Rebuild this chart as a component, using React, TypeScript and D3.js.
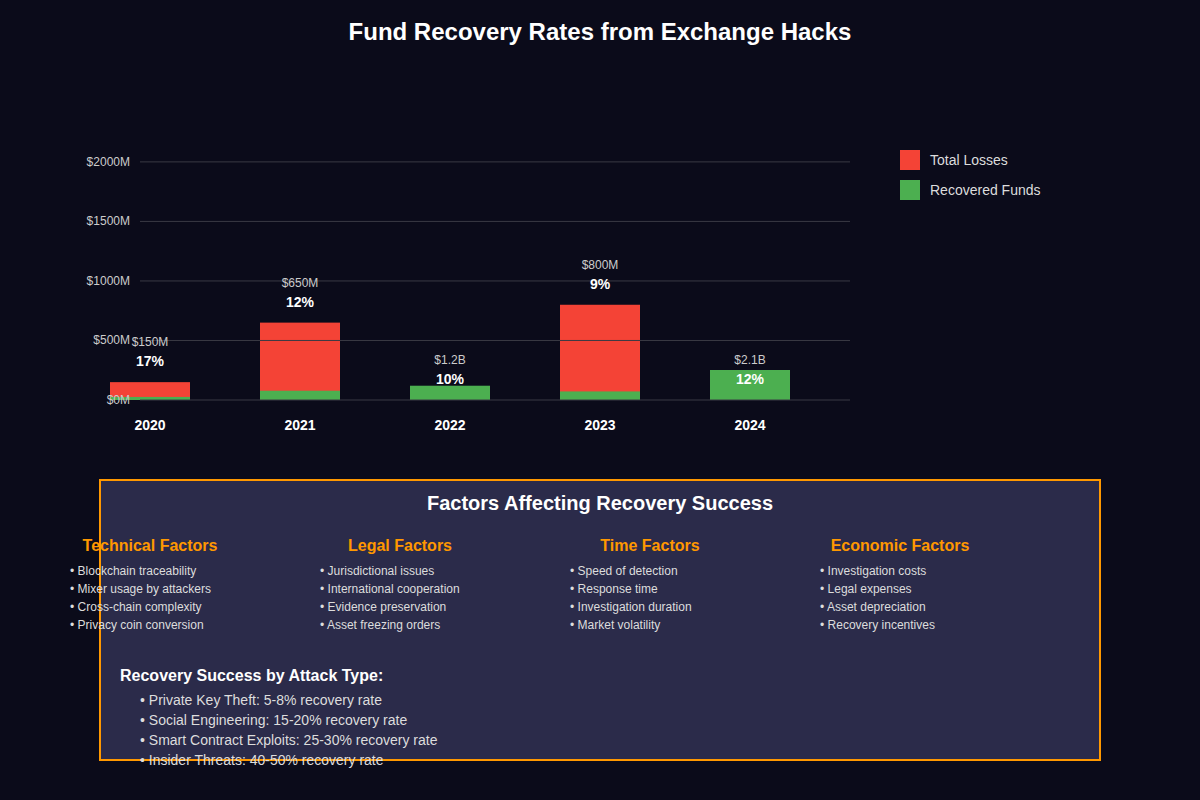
import React from 'react';
import * as d3 from 'd3';

const years = ['2020', '2021', '2022', '2023', '2024'];
// losses as plotted in the source (2022 and 2024 are given in billions, so their red bars are tiny)
const totalLosses = [150, 650, 1.2, 800, 2.1];
const recoveredFunds = [25.5, 78, 120, 72, 252];
const lossLabels = ['$150M', '$650M', '$1.2B', '$800M', '$2.1B'];
const rateLabels = ['17%', '12%', '10%', '9%', '12%'];
const yTicks = [0, 500, 1000, 1500, 2000];

const factorTitles = ['Technical Factors', 'Legal Factors', 'Time Factors', 'Economic Factors'];
const factorItems = [
  ['Blockchain traceability', 'Mixer usage by attackers', 'Cross-chain complexity', 'Privacy coin conversion'],
  ['Jurisdictional issues', 'International cooperation', 'Evidence preservation', 'Asset freezing orders'],
  ['Speed of detection', 'Response time', 'Investigation duration', 'Market volatility'],
  ['Investigation costs', 'Legal expenses', 'Asset depreciation', 'Recovery incentives'],
];
const attackTypes = [
  'Private Key Theft: 5-8% recovery rate',
  'Social Engineering: 15-20% recovery rate',
  'Smart Contract Exploits: 25-30% recovery rate',
  'Insider Threats: 40-50% recovery rate',
];

const RED = '#f44336';
const GREEN = '#4caf50';
const ORANGE = '#ff9800';
const FONT = '"Liberation Sans", Arial, sans-serif';

export default function App() {
  const width = 1200;
  const height = 800;

  const x = d3.scaleBand<string>()
    .domain(years)
    .range([75, 825])
    .paddingInner(7 / 15)
    .paddingOuter(7 / 30);

  const y = d3.scaleLinear().domain([0, 2100]).range([400, 150]);

  const axisLeft = 140;
  const axisRight = 850;

  return (
    <div style={{ position: 'fixed', left: 0, top: 0 }}>
      <svg width={width} height={height} style={{ display: 'block', fontFamily: FONT }}>
        <rect x={0} y={0} width={width} height={height} fill="#0b0b1a" />

        <text x={600} y={40} textAnchor="middle" fill="#fff" fontSize={24} fontWeight="bold">
          Fund Recovery Rates from Exchange Hacks
        </text>

        {/* bars */}
        {years.map((yr, i) => (
          <g key={yr}>
            <rect x={x(yr)} y={y(totalLosses[i])} width={x.bandwidth()} height={y(0) - y(totalLosses[i])} fill={RED} />
            <rect x={x(yr)} y={y(recoveredFunds[i])} width={x.bandwidth()} height={y(0) - y(recoveredFunds[i])} fill={GREEN} />
          </g>
        ))}

        {/* grid + y axis */}
        {yTicks.map(t => (
          <g key={t}>
            <line x1={axisLeft} x2={axisRight} y1={y(t)} y2={y(t)} stroke="#3a3a44" strokeWidth={1} />
            <text x={axisLeft - 10} y={y(t)} dy="0.32em" textAnchor="end" fill="#cccccc" fontSize={12}>
              ${t}M
            </text>
          </g>
        ))}

        {/* labels */}
        {years.map((yr, i) => {
          const cx = (x(yr) ?? 0) + x.bandwidth() / 2;
          const top = y(totalLosses[i]);
          return (
            <g key={'l' + yr}>
              <text x={cx} y={top - 36} textAnchor="middle" fill="#cccccc" fontSize={12}>
                {lossLabels[i]}
              </text>
              <text x={cx} y={top - 16} textAnchor="middle" fill="#fff" fontSize={14} fontWeight="bold">
                {rateLabels[i]}
              </text>
              <text x={cx} y={430} textAnchor="middle" fill="#fff" fontSize={14} fontWeight="bold">
                {yr}
              </text>
            </g>
          );
        })}

        {/* legend */}
        <rect x={900} y={150} width={20} height={20} fill={RED} />
        <text x={930} y={165} fill="#dddddd" fontSize={14}>Total Losses</text>
        <rect x={900} y={180} width={20} height={20} fill={GREEN} />
        <text x={930} y={195} fill="#dddddd" fontSize={14}>Recovered Funds</text>

        {/* factors panel */}
        <rect x={100} y={480} width={1000} height={280} fill="#2b2b4a" stroke={ORANGE} strokeWidth={2} />
        <text x={600} y={510} textAnchor="middle" fill="#fff" fontSize={20} fontWeight="bold">
          Factors Affecting Recovery Success
        </text>
        {factorTitles.map((title, c) => (
          <g key={title}>
            <text x={150 + c * 250} y={551} textAnchor="middle" fill={ORANGE} fontSize={16} fontWeight="bold">
              {title}
            </text>
            {factorItems[c].map((item, r) => (
              <text key={item} x={70 + c * 250} y={575 + r * 18} fill="#dddddd" fontSize={12}>
                • {item}
              </text>
            ))}
          </g>
        ))}

        <text x={120} y={681} fill="#fff" fontSize={16} fontWeight="bold">
          Recovery Success by Attack Type:
        </text>
        {attackTypes.map((t, i) => (
          <text key={t} x={140} y={705 + i * 20} fill="#dddddd" fontSize={14}>
            • {t}
          </text>
        ))}
      </svg>
    </div>
  );
}
